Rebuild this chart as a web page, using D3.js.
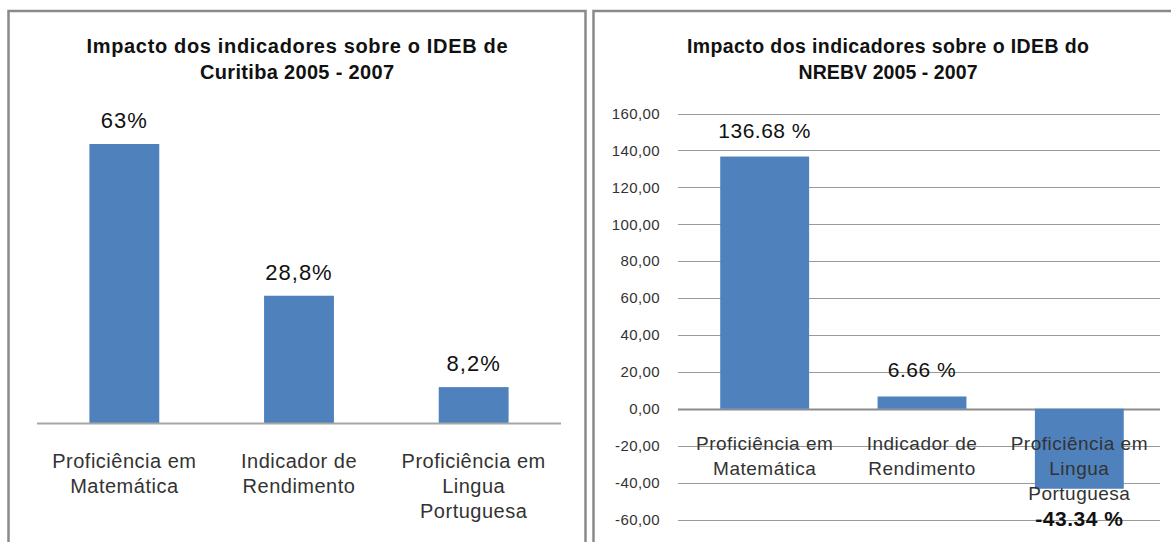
<!DOCTYPE html>
<html>
<head>
<meta charset="utf-8">
<script src="https://cdn.jsdelivr.net/npm/d3@7"></script>
<style>
  html, body { margin: 0; padding: 0; background: #fff; }
  svg { display: block; font-family: "Liberation Sans", Arial, sans-serif; }
</style>
</head>
<body>
<svg id="chart" width="1171" height="542"></svg>
<script>
// Categories shared by both panels
const categories = [
  ["Proficiência em", "Matemática"],
  ["Indicador de", "Rendimento"],
  ["Proficiência em", "Lingua", "Portuguesa"]
];

// Curitiba panel
const curitibaTitle = ["Impacto dos indicadores sobre o IDEB de", "Curitiba 2005 - 2007"];
const curitibaValues = [63, 28.8, 8.2];

// NREBV panel
const nrebvTitle = ["Impacto dos indicadores sobre o IDEB do", "NREBV 2005  - 2007"];
const nrebvValues = [136.68, 6.66, -43.34];
const nrebvTicks = [160, 140, 120, 100, 80, 60, 40, 20, 0, -20, -40, -60];

const BAR = "#4f81bd";
const svg = d3.select("#chart");

const pt = d3.formatLocale({ decimal: ",", thousands: ".", grouping: [3], currency: ["", ""], minus: "-" });
const en = d3.formatLocale({ decimal: ".", thousands: ",", grouping: [3], currency: ["", ""], minus: "-" });

// Panel frames
svg.append("rect").attr("x", 8.5).attr("y", 11).attr("width", 577).attr("height", 560)
  .attr("fill", "#fff").attr("stroke", "#8a8a8a").attr("stroke-width", 2.5);
svg.append("rect").attr("x", 593.5).attr("y", 11).attr("width", 620).attr("height", 560)
  .attr("fill", "#fff").attr("stroke", "#8a8a8a").attr("stroke-width", 2.5);

// Two-line bold chart title, each line fitted to its set width
function title(lines, cx, size, widths) {
  const t = svg.append("text").attr("text-anchor", "middle")
    .attr("font-weight", "bold").attr("font-size", size).attr("fill", "#111");
  lines.forEach((l, i) => t.append("tspan").attr("x", cx).attr("y", 53 + i * 25.5)
    .attr("textLength", widths[i]).attr("lengthAdjust", "spacing").text(l));
}

function catLabels(g, x, y0, size) {
  categories.forEach((lines, i) => {
    const t = g.append("text").attr("text-anchor", "middle")
      .attr("font-size", size).attr("letter-spacing", 0.5).attr("fill", "#333");
    lines.forEach((l, j) => t.append("tspan")
      .attr("x", x(i) + x.bandwidth() / 2).attr("y", y0 + j * 25).text(l));
  });
}

// ---- Left: Curitiba ----
title(curitibaTitle, 297, 20, [421, 194]);
{
  const g = svg.append("g");
  const x = d3.scaleBand().domain(d3.range(categories.length)).range([37, 561])
    .paddingInner(0.6).paddingOuter(0.3);
  const y = d3.scaleLinear().domain([0, 63]).range([423.5, 144]);
  const fmt = pt.format(".1~f");

  g.selectAll("rect.bar").data(curitibaValues).join("rect").attr("class", "bar")
    .attr("x", (d, i) => x(i)).attr("width", x.bandwidth())
    .attr("y", d => y(d)).attr("height", d => y(0) - y(d)).attr("fill", BAR);

  g.append("line").attr("x1", 37).attr("x2", 561).attr("y1", y(0)).attr("y2", y(0))
    .attr("stroke", "#a6a6a6").attr("stroke-width", 2);

  g.selectAll("text.val").data(curitibaValues).join("text").attr("class", "val")
    .attr("text-anchor", "middle").attr("font-size", 22).attr("letter-spacing", 1).attr("fill", "#111")
    .attr("x", (d, i) => x(i) + x.bandwidth() / 2).attr("y", d => y(d) - 16)
    .text(d => fmt(d) + "%");

  catLabels(g, x, 468, 20);
}

// ---- Right: NREBV ----
title(nrebvTitle, 888, 19.5, [402, 179]);
{
  const g = svg.append("g");
  const x = d3.scaleBand().domain(d3.range(categories.length)).range([686, 1158])
    .paddingInner(0.435).paddingOuter(0.2175);
  const y = d3.scaleLinear().domain([-60, 160]).range([519.5, 113.5]);
  const fmt = en.format(".2f");

  // grid + tick labels
  const axis = d3.axisLeft(y).tickValues(nrebvTicks).tickSize(0).tickPadding(0)
    .tickFormat(pt.format(".2f"));
  const ag = g.append("g").attr("transform", "translate(660,0)").call(axis);
  ag.select(".domain").remove();
  ag.selectAll("text").attr("font-size", 15).attr("letter-spacing", 0.4).attr("fill", "#333")
    .attr("font-family", "'Liberation Sans', Arial, sans-serif");

  g.selectAll("line.grid").data(nrebvTicks).join("line").attr("class", "grid")
    .attr("x1", 678).attr("x2", 1160).attr("y1", d => Math.round(y(d)) + 0.5).attr("y2", d => Math.round(y(d)) + 0.5)
    .attr("stroke", d => d === 0 ? "#8c8c8c" : "#9a9a9a").attr("stroke-width", d => d === 0 ? 2 : 1.2);

  g.selectAll("rect.bar").data(nrebvValues).join("rect").attr("class", "bar")
    .attr("x", (d, i) => x(i)).attr("width", x.bandwidth())
    .attr("y", d => y(Math.max(0, d))).attr("height", d => Math.abs(y(d) - y(0))).attr("fill", BAR);

  catLabels(g, x, 450, 19);

  g.selectAll("text.val").data(nrebvValues).join("text").attr("class", "val")
    .attr("text-anchor", "middle").attr("font-size", 21).attr("letter-spacing", 0.5).attr("fill", "#111")
    .attr("font-weight", d => d < 0 ? "bold" : "normal")
    .attr("x", (d, i) => x(i) + x.bandwidth() / 2)
    .attr("y", d => d >= 0 ? y(d) - 19 : y(d) + 37)
    .text(d => fmt(d) + " %");
}
</script>
</body>
</html>
